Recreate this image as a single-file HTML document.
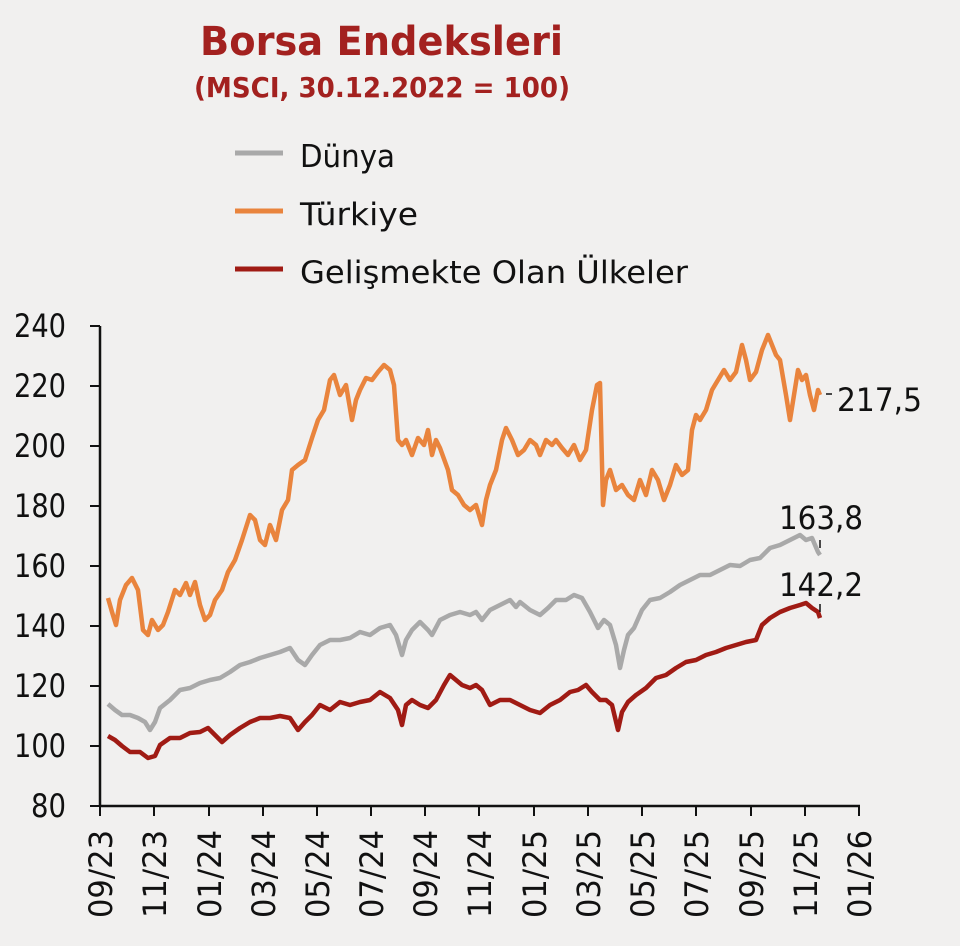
<!DOCTYPE html>
<html><head><meta charset="utf-8"><style>
html,body{margin:0;padding:0;background:#f1f0ef;}
svg{display:block;font-family:"DejaVu Sans","Liberation Sans",sans-serif;}
</style></head><body>
<svg width="960" height="946" viewBox="0 0 960 946" xmlns="http://www.w3.org/2000/svg">
<rect width="960" height="946" fill="#f1f0ef"/>
<text x="200" y="55" font-size="40" font-weight="bold" fill="#a3211f" textLength="363" lengthAdjust="spacingAndGlyphs">Borsa Endeksleri</text>
<text x="194" y="97" font-size="28" font-weight="bold" fill="#a3211f" textLength="376" lengthAdjust="spacingAndGlyphs">(MSCI, 30.12.2022 = 100)</text>
<g font-size="31" fill="#111">
<line x1="235" y1="153" x2="283" y2="153" stroke="#a9a9a9" stroke-width="5"/>
<text x="300" y="167" textLength="95" lengthAdjust="spacingAndGlyphs">Dünya</text>
<line x1="235" y1="211" x2="283" y2="211" stroke="#e9843d" stroke-width="5"/>
<text x="300" y="225" textLength="118" lengthAdjust="spacingAndGlyphs">Türkiye</text>
<line x1="235" y1="269" x2="283" y2="269" stroke="#a01b14" stroke-width="5"/>
<text x="300" y="283" textLength="388" lengthAdjust="spacingAndGlyphs">Gelişmekte Olan Ülkeler</text>
</g>
<g stroke="#111" stroke-width="2.5" fill="none">
<line x1="100" y1="326" x2="100" y2="807"/>
<line x1="99" y1="806" x2="860" y2="806"/>
</g>
<g stroke="#111" stroke-width="2">
<line x1="90" y1="326" x2="100" y2="326"/><line x1="90" y1="386" x2="100" y2="386"/><line x1="90" y1="446" x2="100" y2="446"/><line x1="90" y1="506" x2="100" y2="506"/><line x1="90" y1="566" x2="100" y2="566"/><line x1="90" y1="626" x2="100" y2="626"/><line x1="90" y1="686" x2="100" y2="686"/><line x1="90" y1="746" x2="100" y2="746"/><line x1="90" y1="806" x2="100" y2="806"/>
<line x1="100" y1="806" x2="100" y2="816"/><line x1="154" y1="806" x2="154" y2="816"/><line x1="209" y1="806" x2="209" y2="816"/><line x1="263" y1="806" x2="263" y2="816"/><line x1="317" y1="806" x2="317" y2="816"/><line x1="371" y1="806" x2="371" y2="816"/><line x1="425" y1="806" x2="425" y2="816"/><line x1="479" y1="806" x2="479" y2="816"/><line x1="534" y1="806" x2="534" y2="816"/><line x1="588" y1="806" x2="588" y2="816"/><line x1="642" y1="806" x2="642" y2="816"/><line x1="696" y1="806" x2="696" y2="816"/><line x1="751" y1="806" x2="751" y2="816"/><line x1="805" y1="806" x2="805" y2="816"/><line x1="859" y1="806" x2="859" y2="816"/>
</g>
<g font-size="32" fill="#111" text-anchor="end">
<text x="66" y="337" textLength="52" lengthAdjust="spacingAndGlyphs">240</text><text x="66" y="397" textLength="52" lengthAdjust="spacingAndGlyphs">220</text><text x="66" y="457" textLength="52" lengthAdjust="spacingAndGlyphs">200</text><text x="66" y="517" textLength="52" lengthAdjust="spacingAndGlyphs">180</text><text x="66" y="577" textLength="52" lengthAdjust="spacingAndGlyphs">160</text><text x="66" y="637" textLength="52" lengthAdjust="spacingAndGlyphs">140</text><text x="66" y="697" textLength="52" lengthAdjust="spacingAndGlyphs">120</text><text x="66" y="757" textLength="52" lengthAdjust="spacingAndGlyphs">100</text><text x="66" y="817" textLength="35" lengthAdjust="spacingAndGlyphs">80</text>
</g>
<g font-size="32" fill="#111" text-anchor="end">
<text transform="translate(112,830) rotate(-90)" textLength="88" lengthAdjust="spacingAndGlyphs">09/23</text>
<text transform="translate(166,830) rotate(-90)" textLength="88" lengthAdjust="spacingAndGlyphs">11/23</text>
<text transform="translate(221,830) rotate(-90)" textLength="88" lengthAdjust="spacingAndGlyphs">01/24</text>
<text transform="translate(275,830) rotate(-90)" textLength="88" lengthAdjust="spacingAndGlyphs">03/24</text>
<text transform="translate(329,830) rotate(-90)" textLength="88" lengthAdjust="spacingAndGlyphs">05/24</text>
<text transform="translate(383,830) rotate(-90)" textLength="88" lengthAdjust="spacingAndGlyphs">07/24</text>
<text transform="translate(437,830) rotate(-90)" textLength="88" lengthAdjust="spacingAndGlyphs">09/24</text>
<text transform="translate(491,830) rotate(-90)" textLength="88" lengthAdjust="spacingAndGlyphs">11/24</text>
<text transform="translate(546,830) rotate(-90)" textLength="88" lengthAdjust="spacingAndGlyphs">01/25</text>
<text transform="translate(600,830) rotate(-90)" textLength="88" lengthAdjust="spacingAndGlyphs">03/25</text>
<text transform="translate(654,830) rotate(-90)" textLength="88" lengthAdjust="spacingAndGlyphs">05/25</text>
<text transform="translate(708,830) rotate(-90)" textLength="88" lengthAdjust="spacingAndGlyphs">07/25</text>
<text transform="translate(763,830) rotate(-90)" textLength="88" lengthAdjust="spacingAndGlyphs">09/25</text>
<text transform="translate(817,830) rotate(-90)" textLength="88" lengthAdjust="spacingAndGlyphs">11/25</text>
<text transform="translate(871,830) rotate(-90)" textLength="88" lengthAdjust="spacingAndGlyphs">01/26</text>
</g>
<g fill="none" stroke-width="4.5" stroke-linejoin="round">
<polyline stroke="#a9a9a9" points="108,704 115,710 122,715 130,715 138,718 145,722 150,730 155,722 160,708 170,700 180,690 190,688 200,683 210,680 220,678 230,672 240,665 250,662 260,658 270,655 280,652 290,648 298,660 305,665 312,655 320,645 330,640 340,640 350,638 360,632 370,635 380,628 390,625 396,635 402,655 406,640 412,630 420,622 428,630 432,635 440,620 450,615 460,612 470,615 476,612 482,620 490,610 500,605 510,600 516,607 520,602 530,610 540,615 548,608 556,600 566,600 574,595 582,598 590,612 598,628 604,620 610,625 616,645 620,668 624,650 628,635 634,628 642,610 650,600 660,598 670,592 680,585 690,580 700,575 710,575 720,570 730,565 740,566 750,560 760,558 770,548 780,545 790,540 800,535 806,540 812,538 818,552 820,555"/>
<polyline stroke="#e9843d" points="108,598 112,612 116,625 120,600 126,585 132,578 138,590 143,630 148,635 152,620 158,630 163,625 168,612 175,590 180,595 186,583 190,595 195,582 200,605 205,620 210,615 215,600 222,590 228,572 235,560 242,540 250,515 255,520 260,540 265,545 270,525 276,540 282,510 288,500 292,470 298,465 305,460 312,438 318,420 324,410 330,380 334,375 340,395 346,385 352,420 356,400 360,390 366,378 372,380 378,372 384,365 390,370 394,385 398,440 402,445 406,440 412,455 418,438 424,445 428,430 432,455 436,440 440,448 448,470 452,490 458,495 464,505 470,510 476,505 482,525 486,500 490,485 496,470 502,440 506,428 512,440 518,455 524,450 530,440 536,445 540,455 546,440 552,445 556,440 562,448 568,455 574,445 580,460 586,450 592,410 597,385 600,383 603,505 606,480 610,470 616,490 622,485 628,495 634,500 640,480 646,495 652,470 658,480 664,500 670,485 676,465 682,475 688,470 692,430 696,415 700,420 706,410 712,390 718,380 724,370 730,380 736,372 742,345 746,360 750,380 756,372 762,350 768,335 772,345 776,355 780,360 786,395 790,420 794,395 798,370 802,380 806,375 810,395 814,410 818,390 820,395"/>
<polyline stroke="#a01b14" points="108,736 115,740 122,746 130,752 140,752 148,758 155,756 160,745 170,738 180,738 190,733 200,732 208,728 215,735 222,742 230,735 240,728 250,722 260,718 270,718 280,716 290,718 298,730 305,722 312,715 320,705 330,710 340,702 350,705 360,702 370,700 380,692 390,698 398,710 402,725 406,705 412,700 420,705 428,708 436,700 444,685 450,675 456,680 462,685 470,688 476,685 482,690 490,705 500,700 510,700 520,705 530,710 540,713 550,705 560,700 570,692 578,690 586,685 592,692 600,700 606,700 612,705 618,730 622,712 628,702 636,695 646,688 656,678 666,675 676,668 686,662 696,660 706,655 716,652 726,648 736,645 746,642 756,640 762,625 770,618 780,612 790,608 800,605 806,603 812,608 818,612 820,618"/>
</g>
<g stroke="#111" stroke-width="1.5">
<line x1="826" y1="394" x2="832" y2="394"/>
<line x1="820" y1="540" x2="820" y2="548"/>
<line x1="820" y1="604" x2="820" y2="612"/>
</g>
<g font-size="32" fill="#111">
<text x="837" y="411" textLength="85" lengthAdjust="spacingAndGlyphs">217,5</text>
<text x="779" y="529" textLength="84" lengthAdjust="spacingAndGlyphs">163,8</text>
<text x="779" y="596" textLength="84" lengthAdjust="spacingAndGlyphs">142,2</text>
</g>
</svg>
</body></html>
